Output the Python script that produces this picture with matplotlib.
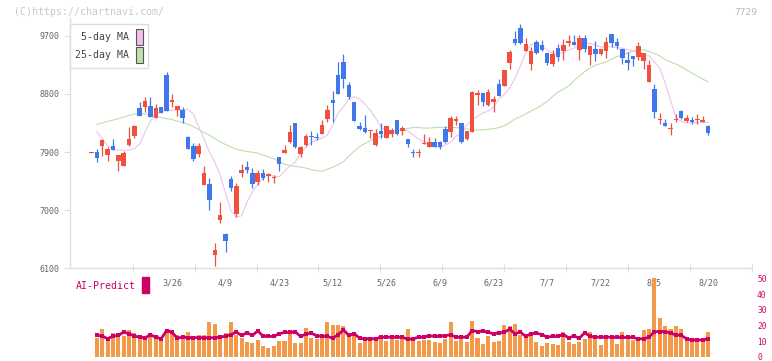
import numpy as np
import matplotlib
matplotlib.use("Agg")
import matplotlib.pyplot as plt
from matplotlib.patches import Patch, Rectangle

plt.rcParams['font.family'] = ['DejaVu Sans Mono']

# daily candles (index 0 .. 115), 3/4 .. 8/20
opens = [7888, 7894, 7996, 7857, 7991, 7764, 7686, 8007, 8146, 8580,
         8600, 8611, 8425, 8596, 9091, 8678, 8549, 8549, 8131, 7991,
         7872, 7392, 7403, 6303, 6845, 6633, 7480, 6943, 7575, 7666,
         7573, 7434, 7578, 7532, 7491, 7816, 7888, 8053, 8348, 7872,
         8012, 8142, 8126, 8182, 8410, 8704, 9091, 9293, 8932, 8673,
         8301, 8266, 8219, 8007, 8219, 8120, 8182, 8394, 8229, 8100,
         7894, 7878, 8028, 7976, 8054, 8054, 8255, 8213, 8374, 8343,
         8100, 8213, 8786, 8808, 8627, 8678, 8952, 8921, 9282, 9649,
         9819, 9468, 9262, 9602, 9551, 9432, 9262, 9510, 9468, 9587,
         9602, 9479, 9664, 9406, 9494, 9417, 9468, 9726, 9602, 9494,
         9324, 9386, 9375, 9313, 8987, 8874, 8389, 8348, 8250, 8389,
         8534, 8384, 8394, 8394, 8368, 8301]
highs = [7894, 7940, 8100, 7971, 8100, 7847, 7914, 8286, 8317, 8673,
         8755, 8755, 8637, 8596, 9138, 8797, 8611, 8596, 8146, 8038,
         8038, 7682, 7496, 6494, 7124, 6644, 7527, 7419, 7716, 7759,
         7651, 7620, 7631, 7578, 7542, 7826, 8002, 8317, 8348, 7991,
         8173, 8229, 8193, 8394, 8631, 8848, 9293, 9417, 8978, 8673,
         8368, 8467, 8244, 8250, 8343, 8301, 8266, 8394, 8301, 8100,
         7945, 7945, 8173, 8126, 8116, 8070, 8306, 8456, 8456, 8343,
         8229, 8843, 8864, 8808, 8874, 8766, 9029, 9169, 9479, 9773,
         9881, 9664, 9530, 9633, 9633, 9432, 9479, 9571, 9649, 9711,
         9711, 9711, 9711, 9540, 9618, 9494, 9680, 9726, 9664, 9494,
         9448, 9386, 9597, 9437, 9319, 8952, 8503, 8410, 8343, 8487,
         8549, 8472, 8441, 8487, 8456, 8312]
lows = [7888, 7748, 7841, 7764, 7934, 7609, 7686, 7996, 8120, 8461,
        8518, 8445, 8425, 8498, 8538, 8591, 8461, 8343, 7950, 7764,
        7826, 7392, 7005, 6138, 6803, 6354, 7299, 6887, 7517, 7578,
        7341, 7387, 7465, 7438, 7424, 7609, 7878, 8033, 7965, 7826,
        7991, 8002, 8080, 8173, 8358, 8368, 8802, 8895, 8715, 8383,
        8240, 8193, 8120, 7996, 8111, 8111, 8136, 8162, 8162, 7981,
        7826, 7826, 8028, 7976, 7981, 7950, 8033, 8136, 8317, 8033,
        8089, 8213, 8631, 8616, 8616, 8523, 8771, 8921, 9189, 9561,
        9576, 9468, 9169, 9417, 9458, 9246, 9236, 9313, 9324, 9545,
        9561, 9324, 9448, 9246, 9308, 9401, 9359, 9525, 9494, 9262,
        9169, 9231, 9324, 9189, 8987, 8430, 8337, 8306, 8162, 8358,
        8415, 8358, 8337, 8337, 8368, 8167]
closes = [7894, 7810, 8084, 7945, 7934, 7847, 7878, 8100, 8301, 8461,
          8688, 8445, 8580, 8498, 8538, 8704, 8611, 8430, 7950, 7795,
          7991, 7573, 7160, 6380, 6923, 6525, 7341, 7372, 7617, 7620,
          7408, 7573, 7500, 7558, 7516, 7712, 7934, 8208, 7976, 7976,
          8142, 8126, 8111, 8317, 8549, 8662, 8802, 9034, 8755, 8383,
          8255, 8208, 8244, 8188, 8182, 8301, 8244, 8173, 8270, 8028,
          7878, 7894, 8038, 8054, 7981, 7981, 8054, 8425, 8410, 8061,
          8219, 8828, 8808, 8678, 8828, 8719, 8771, 9169, 9448, 9592,
          9592, 9571, 9463, 9427, 9479, 9277, 9417, 9375, 9556, 9618,
          9561, 9664, 9494, 9540, 9417, 9494, 9597, 9592, 9540, 9359,
          9282, 9344, 9540, 9437, 9246, 8523, 8410, 8306, 8260, 8399,
          8430, 8425, 8368, 8415, 8399, 8198]

nan = float('nan')
ma5 = [nan, 8213, 8108, 7995, 7937, 7930, 7930, 7930, 7953, 8022,
       8208, 8379, 8472, 8526, 8541, 8549, 8549, 8557, 8560, 8487,
       8286, 8100, 7899, 7744, 7542, 7263, 6985, 6892, 6915, 7124,
       7279, 7403, 7496, 7542, 7527, 7516, 7604, 7682, 7744, 7883,
       7976, 8053, 8084, 8115, 8162, 8317, 8503, 8600, 8720, 8755,
       8720, 8642, 8549, 8425, 8286, 8224, 8232, 8239, 8239, 8224,
       8162, 8100, 8053, 8007, 7984, 7971, 8007, 8053, 8146, 8193,
       8317, 8394, 8456, 8503, 8534, 8596, 8720, 8789, 8890, 9045,
       9231, 9448, 9564, 9571, 9540, 9478, 9432, 9427, 9432, 9478,
       9505, 9556, 9582, 9582, 9556, 9525, 9525, 9530, 9517, 9505,
       9486, 9463, 9448, 9424, 9386, 9293, 9200, 8967, 8704, 8441,
       8371, 8352, 8352, 8352, 8355, 8359]
ma25 = [nan, 8328, 8351, 8373, 8394, 8416, 8441, 8467, 8487, 8498,
        8490, 8478, 8456, 8433, 8417, 8402, 8379, 8355, 8328, 8294,
        8247, 8201, 8162, 8108, 8058, 8015, 7976, 7945, 7922, 7909,
        7895, 7883, 7852, 7826, 7798, 7751, 7713, 7689, 7677, 7666,
        7651, 7627, 7612, 7604, 7635, 7666, 7705, 7751, 7837, 7914,
        7984, 8030, 8074, 8115, 8139, 8162, 8185, 8216, 8239, 8263,
        8281, 8278, 8270, 8270, 8278, 8281, 8281, 8281, 8278, 8270,
        8255, 8247, 8239, 8242, 8252, 8261, 8278, 8304, 8355, 8410,
        8448, 8490, 8534, 8576, 8627, 8684, 8758, 8828, 8874, 8921,
        9006, 9076, 9145, 9200, 9242, 9269, 9296, 9339, 9375, 9401,
        9432, 9458, 9486, 9483, 9455, 9424, 9389, 9331, 9293, 9262,
        9220, 9169, 9118, 9076, 9029, 8988]

volume = [0, 11.7, 18.0, 10.9, 14.9, 13.0, 13.2, 16.8, 14.9, 14.2,
          13.0, 13.4, 11.7, 9.8, 17.4, 15.5, 14.2, 11.7, 15.5, 11.7,
          13.6, 13.6, 22.4, 21.1, 11.7, 14.9, 22.4, 13.6, 11.7, 9.4,
          8.6, 10.5, 6.7, 5.5, 6.7, 9.8, 9.8, 14.9, 8.6, 8.6,
          18.6, 11.7, 11.1, 11.7, 22.4, 20.5, 20.5, 19.3, 14.9, 16.1,
          8.6, 9.8, 11.1, 10.5, 11.7, 9.8, 11.7, 10.5, 11.1, 17.4,
          10.5, 9.8, 10.5, 10.5, 9.2, 8.6, 11.1, 22.4, 9.8, 11.1,
          9.2, 23.0, 11.7, 8.0, 13.0, 9.2, 9.8, 20.5, 19.9, 21.1,
          13.6, 11.7, 15.5, 9.2, 6.7, 8.6, 8.0, 7.3, 15.5, 9.2,
          8.0, 9.2, 11.1, 15.5, 13.0, 7.3, 13.0, 11.1, 8.0, 16.1,
          13.0, 10.5, 10.5, 16.8, 17.4, 50.0, 24.9, 19.9, 17.4, 19.9,
          17.4, 11.7, 11.1, 10.5, 10.5, 15.5]
ai_predict = [nan, 13.6, 13.2, 11.5, 13.2, 13.6, 15.7, 14.7, 13.2, 12.5,
              12.1, 14.0, 12.5, 11.5, 16.7, 15.7, 11.9, 12.5, 12.2, 12.2,
              12.2, 12.2, 12.0, 12.2, 12.5, 13.2, 14.0, 15.7, 13.6, 15.3,
              13.6, 16.5, 13.2, 13.0, 13.0, 14.7, 15.5, 15.5, 15.9, 13.0,
              14.5, 15.0, 13.5, 13.0, 13.0, 11.9, 14.0, 17.2, 13.6, 14.7,
              11.9, 11.5, 11.5, 11.5, 12.5, 12.5, 12.5, 12.5, 12.5, 11.1,
              11.5, 12.5, 12.5, 13.4, 13.0, 13.0, 13.5, 14.0, 12.5, 12.5,
              12.5, 16.7, 16.1, 16.3, 15.5, 14.7, 15.3, 15.7, 17.5, 14.7,
              15.7, 13.0, 14.7, 15.0, 14.2, 12.5, 13.0, 13.0, 14.2, 12.1,
              13.2, 11.9, 15.3, 13.0, 12.5, 12.5, 12.5, 12.5, 12.3, 12.3,
              12.3, 12.3, 11.5, 11.5, 12.5, 16.1, 16.1, 16.1, 15.0, 14.0,
              13.6, 11.5, 10.7, 10.7, 10.7, 11.5]

date_idx = [15, 25, 35, 45, 55, 65, 75, 85, 95, 105, 115]
date_labels = ["3/26", "4/9", "4/23", "5/12", "5/26", "6/9", "6/23",
               "7/7", "7/22", "8/5", "8/20"]
price_ticks = [6100, 7000, 7900, 8800, 9700]
ai_ticks = [0, 10, 20, 30, 40, 50]

RED = '#ef5040'
BLUE = '#4078ec'
GRID = '#dddddd'
CRIMSON = '#cc0066'

W, H = 772, 361
fig = plt.figure(figsize=(W / 100, H / 100), dpi=100)

# price panel
ax = fig.add_axes([70 / W, (H - 268.3) / H, 682 / W, (268.3 - 18) / H])
x = np.arange(len(opens))
o = np.array(opens, dtype=float)
c = np.array(closes, dtype=float)
col = np.where(c >= o, RED, BLUE)

ax.plot(x, ma25, color='#bcdfae', linewidth=0.8, zorder=1)
ax.plot(x, ma5, color='#efc2ee', linewidth=0.8, zorder=1)
ax.vlines(x, lows, highs, colors=col, linewidth=0.9, zorder=2)
ax.bar(x, np.maximum(np.abs(c - o), 16), bottom=np.minimum(o, c),
       width=0.84, color=col, linewidth=0, zorder=3)

ax.set_xlim(-4.01, 123.2)
ax.set_ylim(6100, 9974)
ax.set_yticks(price_ticks)
ax.set_yticklabels([str(v) for v in price_ticks])
ax.set_xticks(date_idx)
ax.set_xticklabels(date_labels)
ax.set_xticks([7.69 + 11.55 * k for k in range(10)] + [123.2], minor=True)

for s in ['top', 'right']:
    ax.spines[s].set_visible(False)
for s in ['left', 'bottom']:
    ax.spines[s].set_color(GRID)
    ax.spines[s].set_linewidth(1)
ax.tick_params(axis='y', length=4.3, width=0.8, color=GRID, pad=3.6,
               labelsize=6, labelcolor='#666666')
ax.tick_params(axis='x', which='major', length=0, pad=7,
               labelsize=6, labelcolor='#666666')
ax.tick_params(axis='x', which='minor', direction='inout', length=5.8,
               width=0.8, color=GRID)

handles = [Patch(facecolor='#f0c0ec', edgecolor='#555555', linewidth=0.8),
           Patch(facecolor='#c0e0b0', edgecolor='#555555', linewidth=0.8)]
leg = ax.legend(handles, ['5-day MA', '25-day MA'], loc='upper left',
                bbox_to_anchor=(0, 0.976), borderaxespad=0, markerfirst=False,
                fontsize=7.1, handlelength=0.65, handleheight=2.1,
                labelspacing=0.15, handletextpad=0.7, borderpad=0.55,
                fancybox=False, framealpha=1)
leg.get_frame().set_edgecolor(GRID)
leg.get_frame().set_linewidth(1)
for t in leg.get_texts():
    t.set_color('#444444')

# volume / AI-Predict panel
vax = fig.add_axes([70 / W, 4.2 / H, 682 / W, 78.5 / H])
vax.patch.set_alpha(0)
vax.bar(x, volume, width=0.75, color='#f2994a', linewidth=0)
vax.plot(x, ai_predict, color=CRIMSON, linewidth=2, marker='s',
         markersize=2.4, markeredgewidth=0)
vax.set_xlim(-4.01, 123.2)
vax.set_ylim(0, 50)
vax.set_xticks([])
vax.set_yticks(ai_ticks)
vax.set_yticklabels([str(v) for v in ai_ticks])
vax.yaxis.tick_right()
vax.tick_params(axis='y', length=0, pad=3.6, labelsize=5.7, labelcolor=CRIMSON)
for s in vax.spines.values():
    s.set_visible(False)

fig.text(14 / W, 1 - 12.3 / H, "(C)https://chartnavi.com/", fontsize=7.1,
         color='#c8c8c8', ha='left', va='center')
fig.text(757 / W, 1 - 12.3 / H, "7729", fontsize=6.8, color='#bbbbbb',
         ha='right', va='center')
fig.text(76 / W, 1 - 286 / H, "AI-Predict", fontsize=7.1, color=CRIMSON,
         ha='left', va='center')
fig.patches.append(Rectangle((142 / W, 1 - 292.7 / H), 6.7 / W, 15.4 / H,
                             transform=fig.transFigure, color=CRIMSON))

fig.savefig("out.png", dpi=100)
